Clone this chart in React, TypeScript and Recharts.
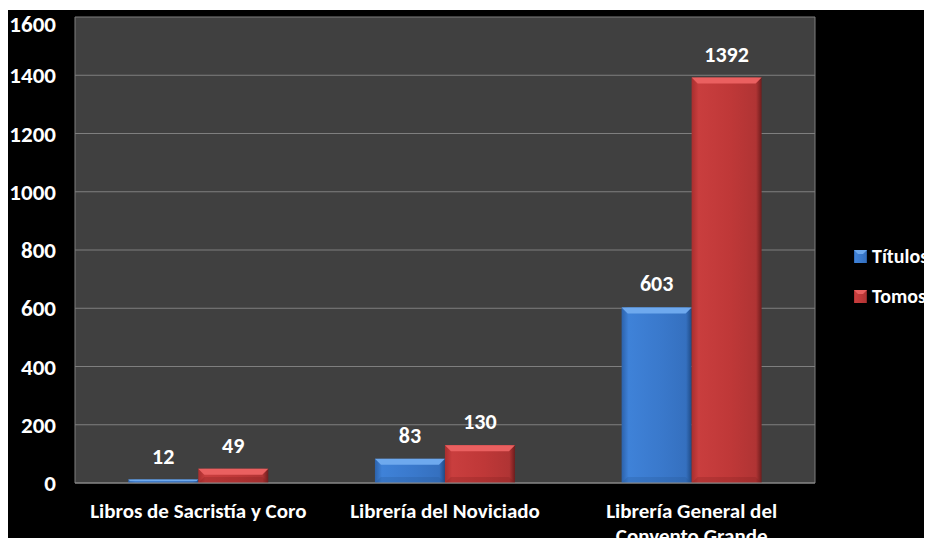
import { Bar, BarChart, CartesianGrid, LabelList, Text, XAxis, YAxis } from 'recharts';

const categories = ['Libros de Sacristía y Coro', 'Librería del Noviciado', 'Librería General del Convento Grande'];
const titulos = [12, 83, 603];
const tomos = [49, 130, 1392];
const yTicks = [0, 200, 400, 600, 800, 1000, 1200, 1400, 1600];

const rows = categories.map((name, i) => ({ name, titulos: titulos[i], tomos: tomos[i] }));

const FONT = "Calibri, Carlito, 'Liberation Sans Narrow', 'Noto Sans', sans-serif";

const SERIES = {
  titulos: { label: 'Títulos', side: 'blueSide', top: '#6ea9ee', edge: '#23548f' },
  tomos: { label: 'Tomos', side: 'redSide', top: '#ea6060', edge: '#7a1c1c' },
};

function makeBevelBar(key: 'titulos' | 'tomos') {
  const s = SERIES[key];
  return (props: any) => {
    const { x, y, width, height } = props;
    if (!height || height <= 0) return <g />;
    const b = Math.min(6, height / 2, width / 2);
    return (
      <g>
        <rect x={x} y={y} width={width} height={height} fill={`url(#${s.side})`} />
        <polygon
          points={`${x},${y} ${x + width},${y} ${x + width - b},${y + b} ${x + b},${y + b}`}
          fill={s.top}
        />
        <polygon
          points={`${x},${y + height} ${x + width},${y + height} ${x + width - b},${y + height - b} ${x + b},${y + height - b}`}
          fill={s.edge}
          opacity={0.25}
        />
      </g>
    );
  };
}

function CategoryTick(props: any) {
  const { x, y, payload } = props;
  return (
    <Text
      x={x}
      y={y}
      width={195}
      textAnchor="middle"
      verticalAnchor="start"
      fill="#ffffff"
      style={{ fontFamily: FONT, fontSize: 21, fontWeight: 700 }}
      lineHeight={25}
    >
      {payload.value}
    </Text>
  );
}

function LegendBox() {
  return (
    <div
      style={{
        position: 'absolute',
        left: 846,
        top: 234,
        fontFamily: FONT,
        fontSize: 20,
        fontWeight: 700,
        color: '#fff',
        whiteSpace: 'nowrap',
      }}
    >
      {(['titulos', 'tomos'] as const).map((k, i) => (
        <div key={k} style={{ display: 'flex', alignItems: 'center', height: 24, marginBottom: i === 0 ? 16 : 0 }}>
          <svg width={13} height={13} style={{ marginRight: 5 }}>
            <rect width={13} height={13} fill={`url(#${SERIES[k].side})`} />
            <polygon points="0,0 13,0 9,4 4,4" fill={SERIES[k].top} />
          </svg>
          <span>{SERIES[k].label}</span>
        </div>
      ))}
    </div>
  );
}

export default function App() {
  return (
    <div style={{ position: 'relative', top: 2, width: 924, height: 530, background: '#000', overflow: 'hidden' }}>
      <svg width={0} height={0} style={{ position: 'absolute' }}>
        <defs>
          <linearGradient id="blueSide" x1="0" y1="0" x2="1" y2="0">
            <stop offset="0%" stopColor="#2c62ab" />
            <stop offset="10%" stopColor="#3f82d8" />
            <stop offset="55%" stopColor="#3a79cc" />
            <stop offset="92%" stopColor="#3570bf" />
            <stop offset="100%" stopColor="#1f4b86" />
          </linearGradient>
          <linearGradient id="redSide" x1="0" y1="0" x2="1" y2="0">
            <stop offset="0%" stopColor="#a82e2e" />
            <stop offset="10%" stopColor="#c93e3e" />
            <stop offset="55%" stopColor="#bf3838" />
            <stop offset="92%" stopColor="#b03434" />
            <stop offset="100%" stopColor="#6e1d1d" />
          </linearGradient>
        </defs>
      </svg>
      <BarChart
        width={924}
        height={530}
        data={rows}
        margin={{ top: 7, right: 117, left: 0, bottom: 0 }}
        barGap={0}
        barCategoryGap="21.6%"
      >
        <CartesianGrid
          fill="#404040"
          stroke="#7f7f7f"
          strokeWidth={1}
          verticalCoordinatesGenerator={({ offset }: any) => [offset.left, offset.left + offset.width]}
        />
        <XAxis
          dataKey="name"
          height={57}
          tickLine={false}
          axisLine={{ stroke: '#8c8c8c' }}
          tickMargin={14}
          interval={0}
          tick={<CategoryTick />}
        />
        <YAxis
          width={67}
          domain={[0, 1600]}
          ticks={yTicks}
          tickLine={false}
          axisLine={false}
          tickSize={0}
          tickMargin={19}
          tick={{ fill: '#ffffff', fontSize: 23, fontWeight: 700, fontFamily: FONT }}
        />
        <Bar dataKey="titulos" name="Títulos" isAnimationActive={false} shape={makeBevelBar('titulos')}>
          <LabelList
            dataKey="titulos"
            position="top"
            offset={16}
            fill="#ffffff"
            style={{ fontSize: 22, fontWeight: 700, fontFamily: FONT }}
          />
        </Bar>
        <Bar dataKey="tomos" name="Tomos" isAnimationActive={false} shape={makeBevelBar('tomos')}>
          <LabelList
            dataKey="tomos"
            position="top"
            offset={16}
            fill="#ffffff"
            style={{ fontSize: 22, fontWeight: 700, fontFamily: FONT }}
          />
        </Bar>
      </BarChart>
      <LegendBox />
    </div>
  );
}
